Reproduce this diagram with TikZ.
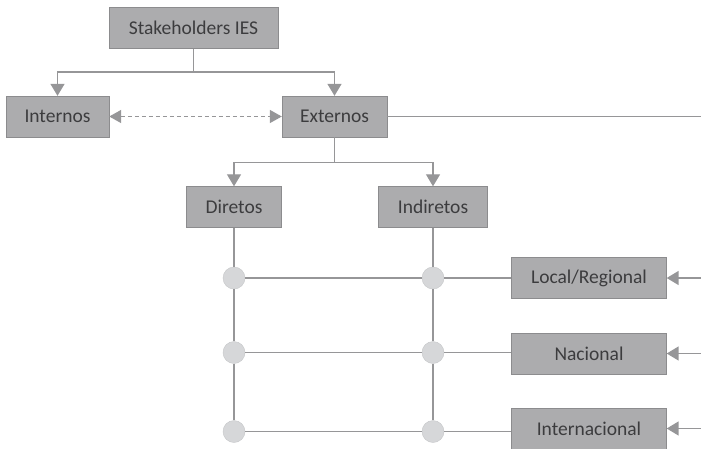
\documentclass[tikz,border=0pt]{standalone}
\usepackage{fontspec}
\setmainfont{Carlito}
\usetikzlibrary{arrows.meta}
\definecolor{boxgray}{RGB}{172,172,174}
\definecolor{boxedge}{RGB}{140,140,142}
\definecolor{linegray}{RGB}{150,150,152}
\definecolor{dotgray}{RGB}{214,215,217}
\definecolor{txtgray}{RGB}{60,60,62}
\begin{document}
\begin{tikzpicture}[x=1pt,y=-1pt,
    box/.style={draw=boxedge,fill=boxgray,text=txtgray,minimum height=41pt,
      inner sep=0pt,font=\fontsize{19.5}{23}\selectfont},
    dot/.style={circle,fill=dotgray,draw=dotgray!92!black,minimum size=22pt,inner sep=0pt},
    link/.style={draw=linegray,line width=1.6pt},
    tip/.style={-{Triangle[width=14pt,length=12pt]}}]
  \useasboundingbox (0,0) rectangle (701,448);
  % boxes
  \node[box,minimum width=169pt] (ies) at (193.5,28) {Stakeholders IES};
  \node[box,minimum width=103pt] (int) at (57.5,116.5) {Internos};
  \node[box,minimum width=105pt] (ext) at (334.5,116.5) {Externos};
  \node[box,minimum width=95pt] (dir) at (234,207) {Diretos};
  \node[box,minimum width=109pt] (ind) at (433,207) {Indiretos};
  \node[box,minimum width=155pt] (loc) at (589,278) {Local/Regional};
  \node[box,minimum width=155pt] (nac) at (589,353.5) {Nacional};
  \node[box,minimum width=155pt] (inl) at (589,428.5) {Internacional};
  % dots
  \foreach \r/\y in {1/278,2/352.5,3/431.5} {
    \node[dot] (d\r1) at (234,\y) {};
    \node[dot] (d\r2) at (433,\y) {};
  }
  \coordinate (extR) at (701,116.5);
  \coordinate (locR) at (701,278);
  \coordinate (nacR) at (701,353.5);
  \coordinate (inlR) at (701,428.5);
  % connectors
  \draw[link,tip] (ies.south) -- ++(0,23) -| (int.north);
  \draw[link,tip] (ies.south) -- ++(0,23) -| (ext.north);
  \draw[link,line width=1.4pt,dash pattern=on 4pt off 3pt,{Triangle[width=13pt,length=12pt]}-{Triangle[width=13pt,length=12pt]}] (int.east) -- (ext.west);
  \draw[link] (ext.east) -- (extR);
  \draw[link,line width=1.3pt,tip] (ext.south) -- ++(0,25) -| (dir.north);
  \draw[link,line width=1.3pt,tip] (ext.south) -- ++(0,25) -| (ind.north);
  \draw[link,line width=1.3pt] (dir) -- (d11) -- (d21) -- (d31);
  \draw[link,line width=1.3pt] (ind) -- (d12) -- (d22) -- (d32);
  \draw[link] (d11) -- (d12) -- (d12 -| loc.west);
  \draw[link] (d21) -- (d22) -- (d22 -| nac.west);
  \draw[link] (d31) -- (d32) -- (d32 -| inl.west);
  \draw[link,tip] (locR) -- (loc);
  \draw[link,tip] (nacR) -- (nac);
  \draw[link,tip] (inlR) -- (inl);
\end{tikzpicture}
\end{document}
